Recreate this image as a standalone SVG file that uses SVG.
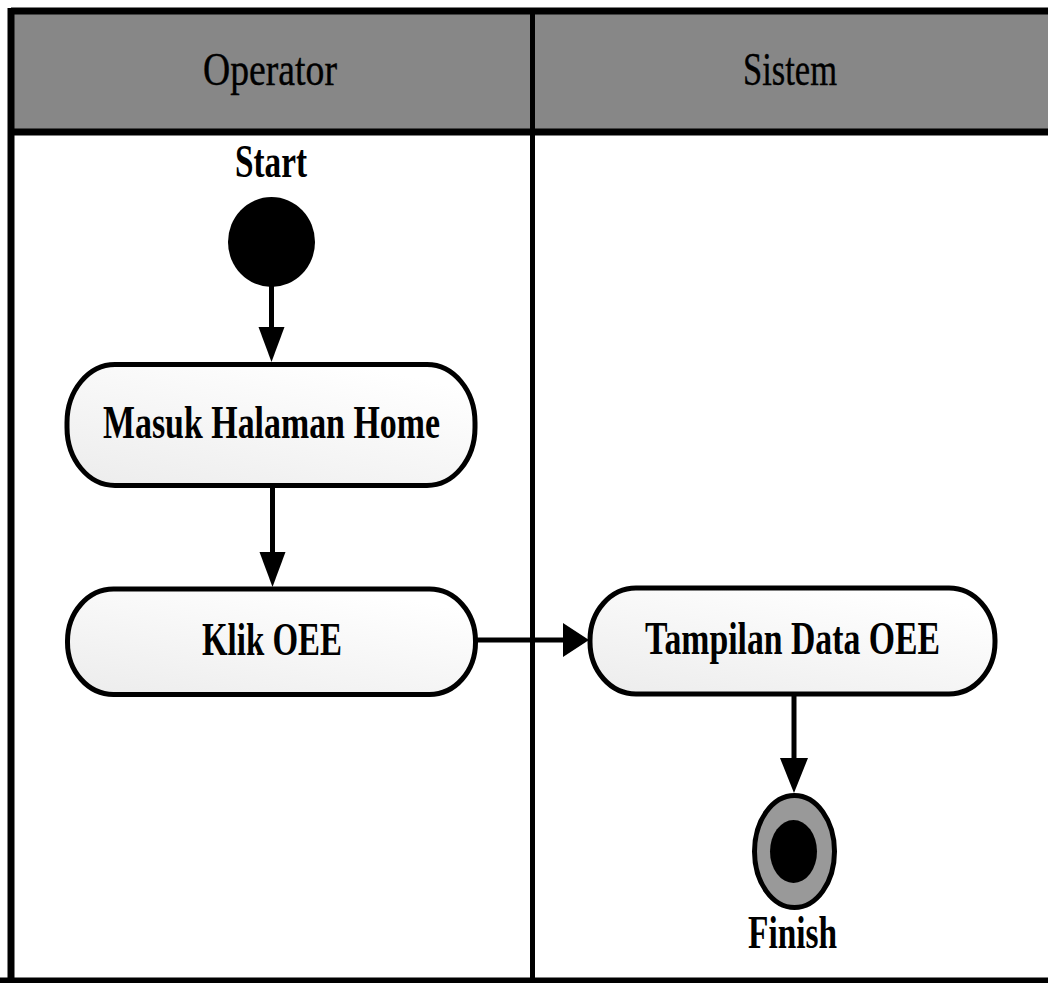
<svg xmlns="http://www.w3.org/2000/svg" width="1048" height="983" viewBox="0 0 1048 983">
  <style>
    .frame { fill: none; stroke: #000; stroke-width: 7; }
    .header { fill: #878787; }
    .lane-title { font-family: "Liberation Serif", "Times New Roman", serif; font-size: 47px; fill: #000; stroke: #000; stroke-width: 0.4; }
    .label { font-family: "Liberation Serif", "Times New Roman", serif; font-size: 46px; font-weight: bold; fill: #000; }
    .action { fill: url(#actionFill); stroke: #000; stroke-width: 5; }
    .edge { fill: none; stroke: #000; stroke-width: 5; }
    .head { fill: #000; stroke: none; }
  </style>
  <defs>
    <linearGradient id="actionFill" x1="0" y1="1" x2="0.7" y2="0">
      <stop offset="0" stop-color="#ececec"/>
      <stop offset="1" stop-color="#ffffff"/>
    </linearGradient>
  </defs>

  <rect width="1048" height="983" fill="#fff"/>

  <!-- swimlane frame -->
  <g id="lanes">
    <rect class="header" x="11" y="11" width="1040" height="121"/>
    <line class="frame" x1="11" y1="11" x2="1052" y2="11"/>
    <line class="frame" x1="11" y1="132" x2="1052" y2="132"/>
    <line class="frame" x1="11" y1="8" x2="11" y2="983"/>
    <line class="frame" x1="0" y1="981" x2="1052" y2="981"/>
    <line x1="532.5" y1="11" x2="532.5" y2="983" stroke="#000" stroke-width="5"/>
    <text class="lane-title" x="203" y="85" textLength="134" lengthAdjust="spacingAndGlyphs">Operator</text>
    <text class="lane-title" x="743" y="85" textLength="94" lengthAdjust="spacingAndGlyphs">Sistem</text>
  </g>

  <!-- connectors -->
  <g id="connectors">
    <line class="edge" x1="271.5" y1="285" x2="271.5" y2="330"/>
    <polygon class="head" points="258.5,327 284.5,327 271.5,362"/>

    <line class="edge" x1="272.5" y1="486" x2="272.5" y2="555"/>
    <polygon class="head" points="259.5,552 285.5,552 272.5,587"/>

    <line class="edge" x1="476" y1="640" x2="566" y2="640"/>
    <polygon class="head" points="563,623 563,657 589,640"/>

    <line class="edge" x1="794" y1="694" x2="794" y2="761"/>
    <polygon class="head" points="780,758 808,758 794,793"/>
  </g>

  <!-- start node -->
  <g id="start">
    <text class="label" x="235" y="177" textLength="72" lengthAdjust="spacingAndGlyphs">Start</text>
    <ellipse cx="271.5" cy="242" rx="43.5" ry="45" fill="#000"/>
  </g>

  <g id="masuk-halaman-home">
    <rect class="action" x="67" y="364.5" width="408" height="121" rx="48" ry="58"/>
    <text class="label" x="103" y="438" textLength="337" lengthAdjust="spacingAndGlyphs">Masuk Halaman Home</text>
  </g>

  <g id="klik-oee">
    <rect class="action" x="67.5" y="589" width="408" height="105.5" rx="46" ry="52"/>
    <text class="label" x="202" y="655" textLength="140" lengthAdjust="spacingAndGlyphs">Klik OEE</text>
  </g>

  <g id="tampilan-data-oee">
    <rect class="action" x="590" y="588" width="405" height="106" rx="46" ry="52"/>
    <text class="label" x="645" y="654" textLength="295" lengthAdjust="spacingAndGlyphs">Tampilan Data OEE</text>
  </g>

  <!-- final node -->
  <g id="finish">
    <ellipse cx="794.5" cy="851.5" rx="40" ry="56" fill="#999" stroke="#000" stroke-width="5"/>
    <ellipse cx="793.5" cy="851.5" rx="23.5" ry="31.5" fill="#000"/>
    <text class="label" x="748" y="948" textLength="89" lengthAdjust="spacingAndGlyphs">Finish</text>
  </g>
</svg>
